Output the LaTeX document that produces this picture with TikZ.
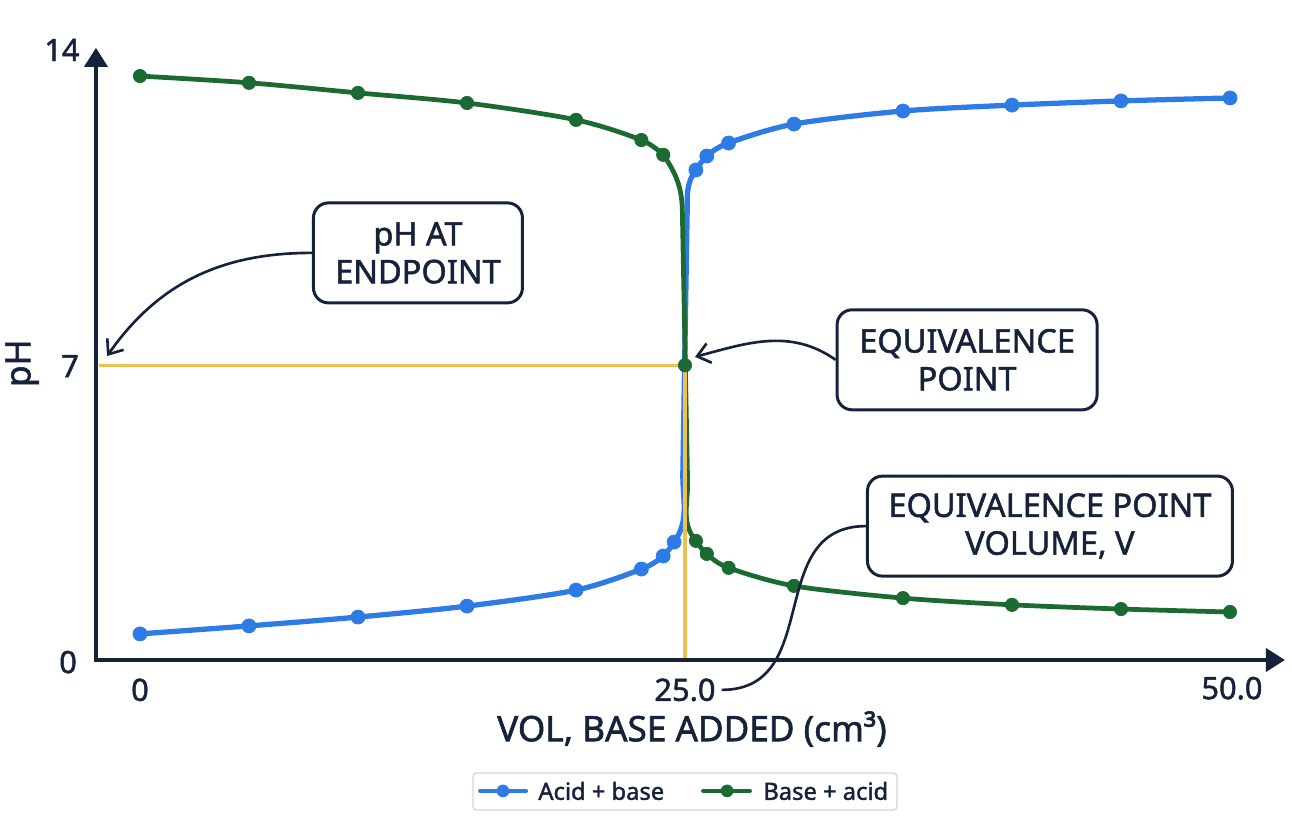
\documentclass[tikz,border=0pt]{standalone}
\usepackage{fontspec}
\setmainfont{Noto Sans}[FakeBold=1.6]
\usetikzlibrary{arrows.meta}
\definecolor{ink}{HTML}{16223A}
\definecolor{acidblue}{HTML}{2F7BE6}
\definecolor{basegreen}{HTML}{1B6A32}
\definecolor{endyellow}{HTML}{EDC04F}
\definecolor{legendgray}{HTML}{D4D6DA}

\begin{document}
\begin{tikzpicture}[x=0.436cm,y=0.842cm,
    axisline/.style={line width=2.2pt,ink,{Triangle[length=0.38cm,width=0.46cm]}-{Triangle[length=0.38cm,width=0.46cm]}},
    acidcurve/.style={line width=3pt,acidblue,line cap=round,line join=round},
    basecurve/.style={line width=2.7pt,basegreen,line cap=round,line join=round},
    acidpt/.style={only marks,mark=*,mark size=4pt,mark options={acidblue}},
    basept/.style={only marks,mark=*,mark size=3.8pt,mark options={basegreen}},
    guide/.style={line width=2pt,endyellow},
    ticklabel/.style={text=ink,font=\fontsize{17.5}{20}\selectfont},
    axistitle/.style={text=ink,font=\fontsize{20}{24}\selectfont},
    callout/.style={draw=ink,line width=1.7pt,rounded corners=0.3cm,align=center,text=ink,
      font=\fontsize{18.5}{21.5}\selectfont,minimum height=2cm},
    pointer/.style={->,>={Straight Barb[length=0.25cm,width=0.4cm]},line width=1.5pt,ink},
    legendtext/.style={anchor=west,inner sep=0pt,text=ink,font=\fontsize{13.5}{16}\selectfont}]

    \useasboundingbox (-6.422,-3.705) rectangle (52.844,15.677);

    \coordinate (O) at (-2.02,0);
    \coordinate (eqpt) at (25,7);
    \coordinate (ep7) at (-1.51,7.22);
    \coordinate (eqtip) at (25.46,7.2);

    \draw[acidcurve] plot[smooth] coordinates {(0,0.62) (5,0.81) (10,1.02) (15,1.28) (20,1.66) (23,2.16) (24,2.47) (24.5,2.8)}
      to[out=55,in=-90] (24.9,4.4) -- (25.1,10.7) to[out=90,in=234] (25.5,11.64)
      plot[smooth] coordinates {(25.5,11.64) (26,11.97) (27,12.28) (30,12.73) (35,13.04) (40,13.18) (45,13.28) (50,13.35)};
    \draw[basecurve] plot[smooth] coordinates {(0,13.87) (5,13.71) (10,13.47) (15,13.23) (20,12.83) (23,12.35) (24,12.0)}
      to[out=-55,in=90] (24.88,10.6) -- (25.12,4.2) to[out=-90,in=130] (25.5,2.83)
      plot[smooth] coordinates {(25.5,2.83) (26,2.52) (27,2.19) (30,1.76) (35,1.47) (40,1.31) (45,1.21) (50,1.14)};

    \draw[guide] (-1.9,7) -- (eqpt) -- (25,0);

    \path[acidpt] plot coordinates {(0,0.62) (5,0.81) (10,1.02) (15,1.28) (20,1.66) (23,2.16) (24,2.47) (24.5,2.8)
      (25.5,11.64) (26,11.97) (27,12.28) (30,12.73) (35,13.04) (40,13.18) (45,13.28) (50,13.35)};
    \path[basept] plot coordinates {(0,13.87) (5,13.71) (10,13.47) (15,13.23) (20,12.83) (23,12.35) (24,12.0) (25,7)
      (25.5,2.83) (26,2.52) (27,2.19) (30,1.76) (35,1.47) (40,1.31) (45,1.21) (50,1.14)};

    \draw[axisline] (-2.02,14.54) -- (O) -- (52.52,0);

    \node[ticklabel] (y14) at (-3.58,14.49) {14};
    \node[ticklabel] (y7) at (-3.21,6.98) {7};
    \node[ticklabel] (y0) at (-3.30,-0.05) {0};
    \node[ticklabel] (x0) at (0,-0.71) {0};
    \node[ticklabel] (x25) at (25,-0.71) {25.0};
    \node[ticklabel] (x50) at (50.09,-0.67) {50.0};
    \node[axistitle,rotate=90] (phlabel) at (-5.41,7.05) {pH};
    \node[axistitle] (vollabel) at (25.32,-1.64) {VOL, BASE ADDED (cm³)};

    \node[callout,minimum width=4.18cm] (ep) at (12.75,9.67) {pH AT\\ENDPOINT};
    \node[callout,minimum width=5.2cm] (eq) at (37.94,7.13) {EQUIVALENCE\\POINT};
    \node[callout,minimum width=7.3cm] (vol) at (41.74,3.18) {EQUIVALENCE POINT\\VOLUME, V};

    \draw[pointer] (ep.west) to[out=180,in=55] (ep7);
    \draw[pointer] (eq.west) to[out=145,in=15] (eqtip);
    \draw[line width=1.5pt,ink] (vol.west) to[out=180,in=0,looseness=1.2] (x25.east);

    \node[draw=legendgray,line width=0.8pt,rounded corners=2pt,minimum width=8.48cm,minimum height=0.74cm] (legend) at (25,-3.124) {};
    \draw[acidcurve,line width=2.3pt] (15.6,-3.11) -- (17.71,-3.11);
    \fill[acidblue] (16.65,-3.11) circle (3.6pt);
    \node[legendtext] (acidkey) at (18.26,-3.11) {Acid + base};
    \draw[basecurve,line width=2.3pt] (25.83,-3.11) -- (27.98,-3.11);
    \fill[basegreen] (26.93,-3.11) circle (3.6pt);
    \node[legendtext] (basekey) at (28.58,-3.11) {Base + acid};

  \end{tikzpicture}
\end{document}
